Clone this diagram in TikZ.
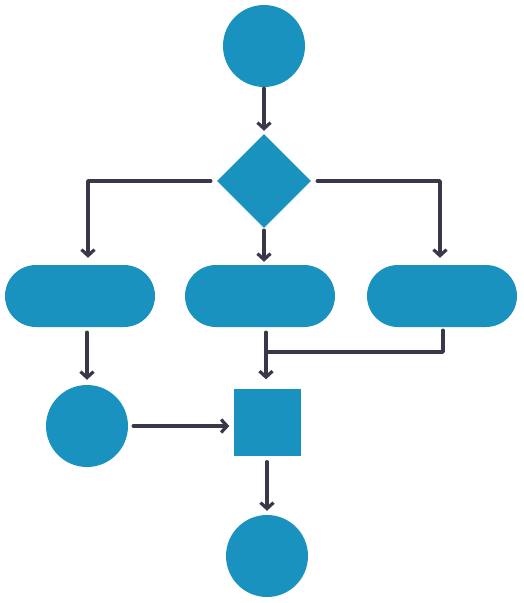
\documentclass[tikz,border=0pt]{standalone}
\usetikzlibrary{arrows.meta,shapes.geometric}
\definecolor{fillblue}{HTML}{1A92C0}
\definecolor{linedark}{HTML}{3A3848}
\begin{document}
\begin{tikzpicture}[x=1pt,y=-1pt,
  blob/.style={fill=fillblue,draw=none,inner sep=0pt},
  roundnode/.style={blob,circle,minimum size=82pt},
  pill/.style={blob,rectangle,rounded corners=31pt,minimum width=150pt,minimum height=62pt},
  decide/.style={blob,diamond,minimum width=94pt,minimum height=94pt},
  boxnode/.style={blob,rectangle,minimum size=67pt},
  conn/.style={draw=linedark,line width=3.4pt,line cap=round,line join=round},
  arr/.style={conn,-{Straight Barb[length=6pt,width=13pt,line width=3.2pt]}}]
\useasboundingbox (0,0) rectangle (524,603);
\node[roundnode] (top) at (264,46) {};
\node[decide] (dia) at (264,181) {};
\node[pill] (lp) at (80,296) {};
\node[pill] (mp) at (260,296) {};
\node[pill] (rp) at (442,296) {};
\node[roundnode] (lc) at (87,426) {};
\node[boxnode] (sq) at (267,422) {};
\node[roundnode] (bc) at (267,556) {};
\coordinate (j) at (266,352);
\draw[arr,shorten <=1pt,shorten >=3pt] (top) -- (dia);
\draw[arr,shorten <=6pt,shorten >=7pt] (dia.west) -| ([xshift=8pt]lp.north);
\draw[arr,shorten <=6pt,shorten >=7pt] (dia.east) -| ([xshift=-2pt]rp.north);
\draw[arr,shorten <=2pt,shorten >=3pt] (dia.south) -- ([xshift=4pt]mp.north);
\draw[arr,shorten <=5pt,shorten >=5pt] ([xshift=7pt]lp.south) -- (lc.north);
\draw[arr,shorten <=5pt,shorten >=4pt] (lc.east) -- (lc.east -| sq.west);
\draw[arr,shorten <=5pt,shorten >=9pt] ([xshift=6pt]mp.south) -- ([xshift=-1pt]sq.north);
\draw[conn,shorten <=3pt] ([xshift=1pt]rp.south) |- (j);
\draw[arr,shorten <=6pt,shorten >=4pt] (sq.south) -- (bc.north);
\end{tikzpicture}
\end{document}
